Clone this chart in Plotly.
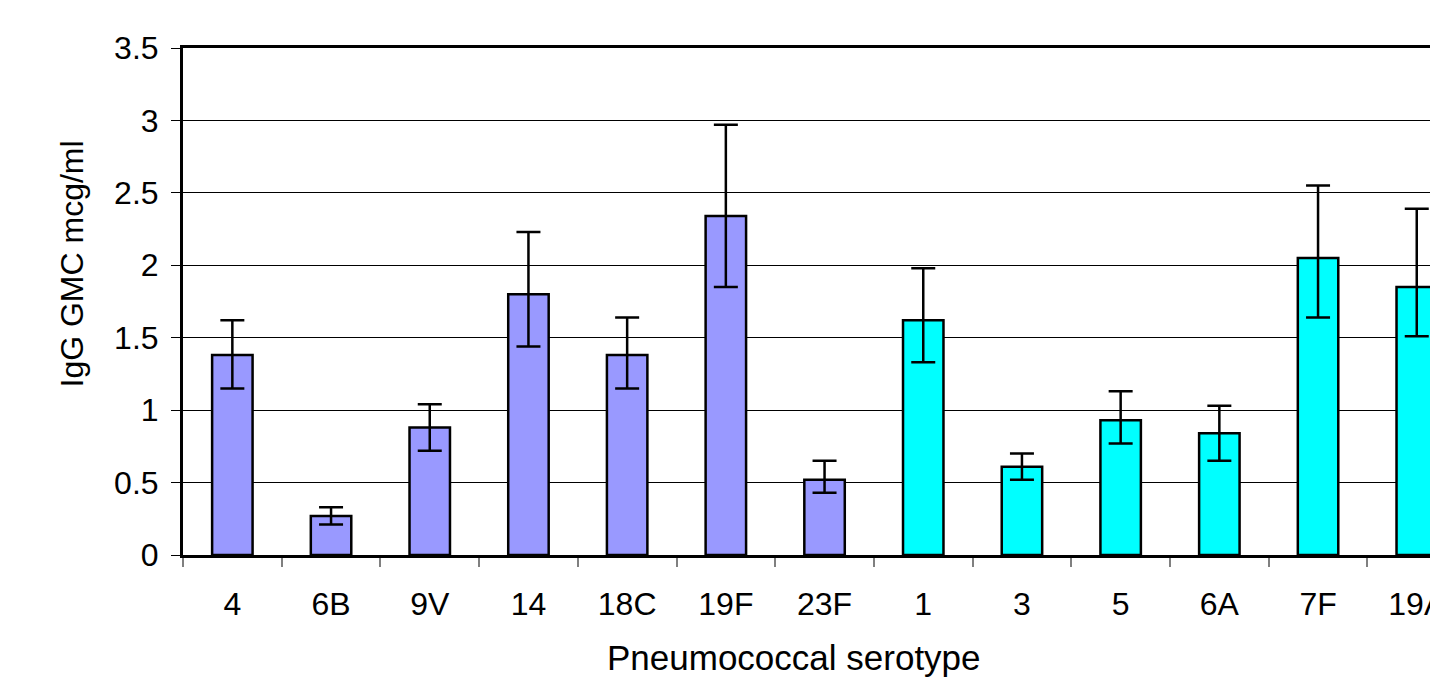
import plotly.graph_objects as go

serotypes = ["4", "6B", "9V", "14", "18C", "19F", "23F", "1", "3", "5", "6A", "7F", "19A"]
group = ["PCV7"] * 7 + ["Additional"] * 6
gmc = [1.38, 0.27, 0.88, 1.80, 1.38, 2.34, 0.52, 1.62, 0.61, 0.93, 0.84, 2.05, 1.85]
ci_upper = [1.62, 0.33, 1.04, 2.23, 1.64, 2.97, 0.65, 1.98, 0.70, 1.13, 1.03, 2.55, 2.39]
ci_lower = [1.15, 0.21, 0.72, 1.44, 1.15, 1.85, 0.43, 1.33, 0.52, 0.77, 0.65, 1.64, 1.51]
y_ticks = [0, 0.5, 1, 1.5, 2, 2.5, 3, 3.5]

group_colors = {"PCV7": "#9999FF", "Additional": "#00FFFF"}

W, H = 1430, 689
L, T, B = 183, 48, 134
FONT = "Liberation Sans, Arial, Helvetica, sans-serif"

err_plus = [u - g for u, g in zip(ci_upper, gmc)]
err_minus = [g - l for g, l in zip(gmc, ci_lower)]

fig = go.Figure()
fig.add_trace(go.Bar(
    x=serotypes,
    y=gmc,
    width=0.41,
    marker=dict(color=[group_colors[g] for g in group],
                line=dict(color="black", width=2.5)),
    error_y=dict(type="data", symmetric=False, array=err_plus, arrayminus=err_minus,
                 color="black", thickness=2.5, width=12),
    showlegend=False,
))

plot_h = H - T - B
plot_w = W - L

fig.update_layout(
    width=W, height=H,
    margin=dict(l=L, r=0, t=T, b=B, autoexpand=False),
    paper_bgcolor="white",
    plot_bgcolor="white",
    font=dict(family=FONT, size=32, color="black"),
    xaxis=dict(
        type="category",
        automargin=False,
        range=[-0.5, -0.5 + plot_w / 98.7],
        showline=True, linecolor="black", linewidth=3, mirror=True,
        ticks="outside", tickson="boundaries", ticklen=9, tickwidth=1.5, tickcolor="#808080",
        showgrid=False,
        tickfont=dict(size=32),
        ticklabelstandoff=19,
    ),
    yaxis=dict(
        automargin=False,
        range=[0, 3.5],
        tickvals=y_ticks,
        ticktext=[f"{v:g}" for v in y_ticks],
        showline=True, linecolor="black", linewidth=3,
        ticks="outside", ticklen=9, tickwidth=1, tickcolor="black",
        showgrid=True, gridcolor="black", gridwidth=1,
        zeroline=False,
        tickfont=dict(size=32),
        ticklabelstandoff=6,
    ),
    annotations=[
        dict(text="Pneumococcal serotype", xref="paper", yref="paper",
             x=(794 - L) / plot_w, y=-(657 - (H - B)) / plot_h,
             xanchor="center", yanchor="middle", showarrow=False,
             font=dict(size=35)),
        dict(text="IgG GMC mcg/ml", xref="paper", yref="paper",
             x=-(L - 71) / plot_w, y=-(390 - (H - B)) / plot_h,
             xanchor="center", yanchor="bottom", textangle=-90, showarrow=False,
             font=dict(size=32)),
    ],
)

fig.write_html("out.html")
